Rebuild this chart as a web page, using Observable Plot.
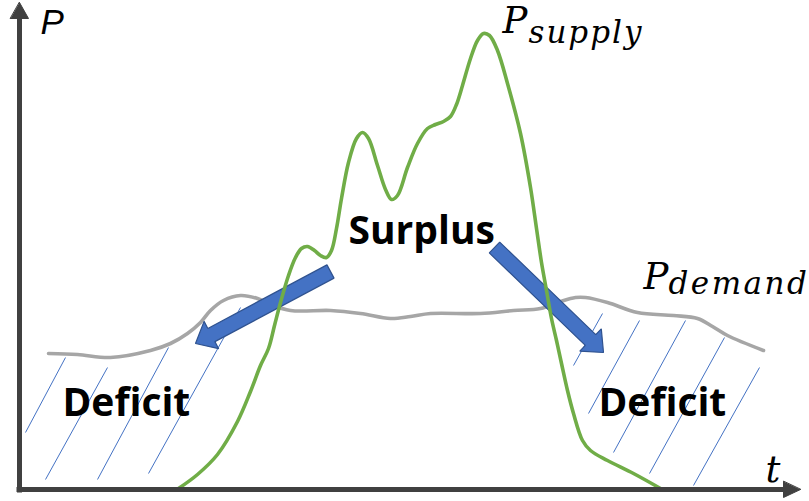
<!DOCTYPE html>
<html>
<head>
<meta charset="utf-8">
<script src="https://cdn.jsdelivr.net/npm/d3@7"></script>
<script src="https://cdn.jsdelivr.net/npm/@observablehq/plot@0.6"></script>
<style>
  html, body { margin: 0; padding: 0; background: #ffffff; }
  #chart { width: 809px; height: 501px; }
</style>
</head>
<body>
<div id="chart"></div>
<script>
// ---- data (t = time, P = power, arbitrary units) ----
const supplyT = [159,178,198,218,231,241,249,255,261,269,276,282,288,295,301,307,312,317,322,329,337,343,349,358,366,372,378,388,398,408,416,424,431,437,443,451,458,464,470,478,488,501,511,517,522,527,532,537,542,548,554,563,571,588,614,641];
const supplyP = [1,15,35,68,98,124,141,164,187,214,232,241,243,239,234,232,239,261,291,327,351,357,351,324,300,290,294,322,346,361,365,368,373,385,404,431,449,456,454,439,406,356,302,261,227,199,171,149,126,99,76,49,39,29,16,1];

const demandT = [29,58,91,131,151,168,181,191,204,221,238,251,271,311,341,371,391,411,461,494,521,541,556,566,588,618,654,678,693,708,744];
const demandP = [136,135,132,139,146,156,167,179,189,194,191,185,179,179,176,171,173,176,176,179,181,188,192,192,187,177,174,171,163,154,139];

// hatch strokes of the two deficit regions: [t1, P1, t2, P2]
const hatchLeft  = [[6,57,46,132],[26,10,88,122],[78,10,149,142],[129,16,221,182]];
const hatchRight = [[554,124,583,176],[569,76,620,169],[594,37,666,169],[630,16,705,152],[674,4,740,122]];

// transfer arrows: surplus -> deficit  [tailT, tailP, tipT, tipP]
const transfers = [[311,218,176,146],[475,242,584,137]];

// axis extents
const tMax = 781;
const PMax = 487;

const labels = {
  P: "P", t: "t",
  supplyMain: "P", supplySub: "supply",
  demandMain: "P", demandSub: "demand",
  surplus: "Surplus", deficit: "Deficit"
};

// ---- derived tables ----
const supply = supplyT.map((t, i) => ({t, P: supplyP[i]}));
const demand = demandT.map((t, i) => ({t, P: demandP[i]}));
const hatch = [...hatchLeft, ...hatchRight].map(([t1,P1,t2,P2]) => ({t1,P1,t2,P2}));

// block-arrow polygon in data units (x and y scales share 1:1 pixel ratio)
function blockArrow(id, x0, y0, x1, y1, w, hw, hl) {
  const dx = x1 - x0, dy = y1 - y0, L = Math.hypot(dx, dy);
  const ux = dx / L, uy = dy / L, nx = -uy, ny = ux;
  const cx = x1 - ux * hl, cy = y1 - uy * hl;
  return [
    [x0 + nx*w/2, y0 + ny*w/2],
    [cx + nx*w/2, cy + ny*w/2],
    [cx + nx*hw/2, cy + ny*hw/2],
    [x1, y1],
    [cx - nx*hw/2, cy - ny*hw/2],
    [cx - nx*w/2, cy - ny*w/2],
    [x0 - nx*w/2, y0 - ny*w/2]
  ].map(([t, P]) => ({id, t, P}));
}
const arrowPolys = transfers.flatMap((a, i) => blockArrow("a" + i, ...a, 15, 31, 18));

const axisHeads = [
  ...[[-9, PMax - 16], [9, PMax - 16], [0, PMax]].map(([t, P]) => ({id: "y", t, P})),
  ...[[tMax - 17, 8], [tMax - 17, -8], [tMax, 0]].map(([t, P]) => ({id: "x", t, P}))
];
const axisLines = [
  {t1: 0, P1: -3, t2: 0, P2: PMax - 14},
  {t1: -3, P1: 0, t2: tMax - 15, P2: 0}
];

const serif = "'DejaVu Serif', serif";
const sans = "'Open Sans', 'Noto Sans', sans-serif";
const sansItalic = "'Liberation Sans', Arial, sans-serif";

const chart = Plot.plot({
  width: 809,
  height: 501,
  margin: 0,
  style: {background: "#ffffff", overflow: "visible"},
  x: {domain: [-19, 790], axis: null},
  y: {domain: [-12, 489], axis: null},
  marks: [
    Plot.link(hatch, {x1: "t1", y1: "P1", x2: "t2", y2: "P2", stroke: "#4472C4", strokeWidth: 1}),
    Plot.line(demand, {x: "t", y: "P", stroke: "#A6A6A6", strokeWidth: 3.6, curve: "catmull-rom"}),
    Plot.line(arrowPolys, {x: "t", y: "P", z: "id", fill: "#4472C4", stroke: "#2F528F", strokeWidth: 1.2, curve: "linear-closed", strokeLinejoin: "miter"}),
    Plot.line(supply, {x: "t", y: "P", stroke: "#70AD47", strokeWidth: 3.6, curve: "catmull-rom"}),
    Plot.link(axisLines, {x1: "t1", y1: "P1", x2: "t2", y2: "P2", stroke: "#404040", strokeWidth: 5, strokeLinecap: "butt"}),
    Plot.line(axisHeads, {x: "t", y: "P", z: "id", fill: "#404040", stroke: "#404040", strokeWidth: 1, curve: "linear-closed"}),
    Plot.text([labels.P], {x: 21, y: 456, text: d => d, textAnchor: "start", lineAnchor: "bottom", fontFamily: sansItalic, fontStyle: "italic", fontSize: 35, fill: "#000"}),
    Plot.text([labels.t], {x: 746, y: 8, text: d => d, textAnchor: "start", lineAnchor: "bottom", fontFamily: serif, fontStyle: "italic", fontSize: 37, fill: "#000"}),
    Plot.text([labels.supplyMain], {x: 483, y: 457, text: d => d, textAnchor: "start", lineAnchor: "bottom", fontFamily: serif, fontStyle: "italic", fontSize: 37, fill: "#000"}),
    Plot.text([labels.supplySub], {x: 509, y: 447, text: d => d, textAnchor: "start", lineAnchor: "bottom", fontFamily: serif, fontStyle: "italic", fontSize: 31, fill: "#000"}),
    Plot.text([labels.demandMain], {x: 624, y: 201, text: d => d, textAnchor: "start", lineAnchor: "bottom", fontFamily: serif, fontStyle: "italic", fontSize: 37, fill: "#000"}),
    Plot.text([labels.demandSub], {x: 649, y: 196, text: d => d, textAnchor: "start", lineAnchor: "bottom", fontFamily: serif, fontStyle: "italic", fontSize: 31, fill: "#000"}),
    Plot.text([labels.surplus], {x: 329, y: 246, text: d => d, textAnchor: "start", lineAnchor: "bottom", fontFamily: sans, fontWeight: "bold", fontSize: 39, fill: "#000"}),
    Plot.text([labels.deficit], {x: 43, y: 74, text: d => d, textAnchor: "start", lineAnchor: "bottom", fontFamily: sans, fontWeight: "bold", fontSize: 39, fill: "#000"}),
    Plot.text([labels.deficit], {x: 579, y: 74, text: d => d, textAnchor: "start", lineAnchor: "bottom", fontFamily: sans, fontWeight: "bold", fontSize: 39, fill: "#000"})
  ]
});
// Cambria-Math-like wide spacing for the subscripts
d3.select(chart).selectAll("text").each(function () {
  const s = this.textContent;
  if (s === labels.supplySub) this.setAttribute("letter-spacing", "2");
  if (s === labels.demandSub) this.setAttribute("letter-spacing", "2.5");
});
document.getElementById("chart").appendChild(chart);
</script>
</body>
</html>
